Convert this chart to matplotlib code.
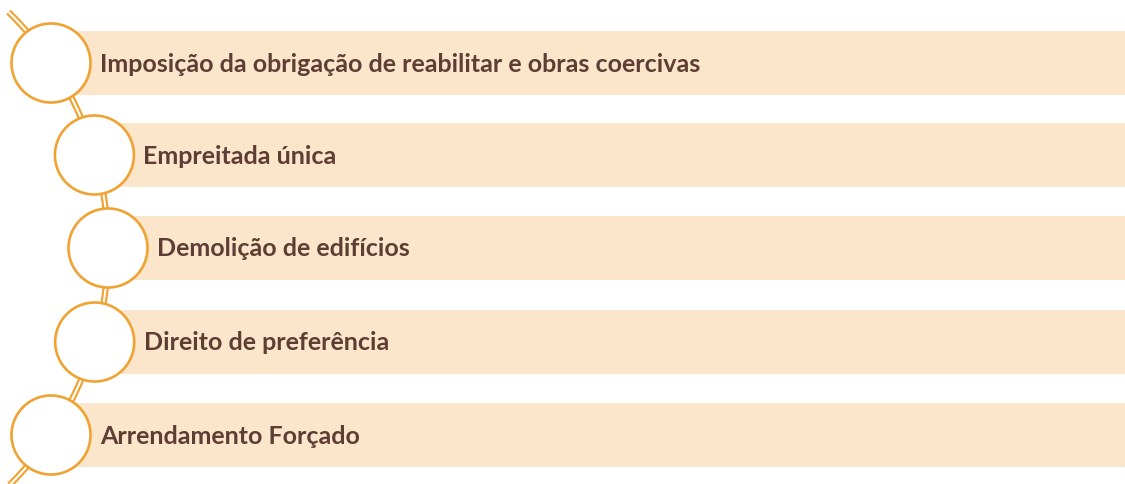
import numpy as np
import matplotlib.pyplot as plt
from matplotlib.patches import Circle, Rectangle

# Itens da lista
rotulos = [
    'Imposição da obrigação de reabilitar e obras coercivas',
    'Empreitada única',
    'Demolição de edifícios',
    'Direito de preferência',
    'Arrendamento Forçado',
]
centros_y = [63, 155, 248, 342, 435]

# Cores
laranja = '#F0A232'
bege = '#FBE5CB'
castanho = '#5E3D34'

W, H = 1125, 484
fig = plt.figure(figsize=(W / 100, H / 100), dpi=100)
ax = fig.add_axes([0, 0, 1, 1])
ax.set_xlim(0, W)
ax.set_ylim(H, 0)
ax.axis('off')

# arco que liga os circulos
cx0, cy0, R = -224, 249, 332
raio = 39.5

def x_arco(y):
    return cx0 + np.sqrt(R**2 - (y - cy0)**2)

ys = np.linspace(12, 490, 400)
ax.plot(x_arco(ys), ys, color=laranja, lw=4.6, solid_capstyle='butt', zorder=2)
ax.plot(x_arco(ys), ys, color='white', lw=1.5, solid_capstyle='butt', zorder=2.1)

for rot, cy in zip(rotulos, centros_y):
    cx = x_arco(cy)
    ax.add_patch(Rectangle((cx + 26, cy - 32), W - (cx + 26), 64,
                           facecolor=bege, edgecolor='none', zorder=1))
    ax.add_patch(Circle((cx, cy), raio, facecolor='white', edgecolor=laranja,
                        lw=1.9, zorder=3))
    ax.text(cx + 49, cy + 1, rot, fontsize=18, fontweight='bold',
            family=['Lato', 'DejaVu Sans'], color=castanho, va='center', ha='left', zorder=4)

fig.savefig('out.png', dpi=100)
